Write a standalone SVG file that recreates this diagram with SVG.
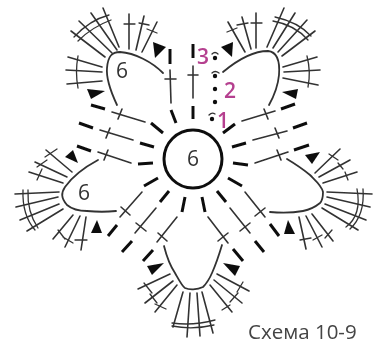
<svg xmlns="http://www.w3.org/2000/svg" width="382" height="345" viewBox="0 0 382 345">
<style>
.t{fill:none;stroke:#333;stroke-width:1.6;stroke-linecap:round}
.c{fill:none;stroke:#333;stroke-width:1.3;stroke-linecap:round}
.d{fill:none;stroke:#111;stroke-width:3;stroke-linecap:butt}
.p{fill:none;stroke:#333;stroke-width:1.8;stroke-linecap:round}
.a{fill:#111;stroke:none}
.n{font-family:"Open Sans","Noto Sans",sans-serif;font-size:21px;fill:#333;text-anchor:middle}
.m{font-family:"Open Sans","Noto Sans",sans-serif;font-size:21px;font-weight:600;fill:#b5408f;text-anchor:middle}
text.l{font-family:"Open Sans","Noto Sans",sans-serif;font-size:20.5px;fill:#444}
</style>
<defs><filter id="b" x="0" y="0" width="100%" height="100%" filterUnits="userSpaceOnUse"><feGaussianBlur stdDeviation="0.45"/></filter></defs>
<rect width="382" height="345" fill="#fff"/>
<g filter="url(#b)">
<g id="connectors">
<path class="d" d="M171 110L176 123M193 106V119M223 133L235 124M232 147L246 143M233 163L248 165M228 178L242 186M217 191L226 202M202 197L205 212M185 197L182 212M169 191L160 202M158 178L144 186M153 163L138 164M154 147L140 143M163 133L151 123"/>
<path class="d" d="M170 49V64M193 44V58M91 105L105 109M79 123L93 128M77 146L91 151M117 225L108 236M132 241L122 252M153 250L143 261M233 249L243 261M255 241L264 252M270 224L279 236M281 109L295 104M293 128L307 123M294 150L309 145"/>
<path class="t" d="M170 70L171 103M165 79H176M193 66V98M188 75H198M112 112L145 122M118 119L122 109M100 130L133 140M106 138L110 128M98 152L131 163M104 160L108 150M142 192L120 217M121 207L130 215M156 208L135 233M136 223L146 231M177 217L157 242M158 233L167 241M208 217L228 243M218 241L228 233M230 208L250 233M240 231L250 223M245 192L265 217M255 216L265 208M242 121L275 111M264 109L268 119M253 140L287 131M275 128L279 138M255 163L288 152M277 150L281 160"/>
</g>
<g id="stitches-start">
<g class="a"><circle cx="215" cy="58" r="2.2"/><circle cx="215" cy="76" r="2.2"/><circle cx="215" cy="89" r="2.2"/><circle cx="215" cy="102" r="2.2"/><circle cx="212" cy="119" r="2.2"/></g>
<path class="c" d="M212 54Q215 51 218 54M212 73Q215 70 219 73M209 115Q212 112 215 114"/>
<text class="m" x="203" y="64">3</text>
<text class="m" x="230" y="98">2</text>
<text class="m" x="223" y="128">1</text>
</g>
<g id="center">
<circle cx="193" cy="159" r="29" fill="none" stroke="#111" stroke-width="3"/>
<text class="n" x="193" y="166">6</text>
</g>
<g id="petal-top-left">
<path class="p" d="M117 105C110 90 106 78 107 68C108 56 112 52 120 52C135 53 152 62 163 73"/>
<text class="n" x="122" y="78">6</text>
<polygon class="a" points="153,42 166,47 155,58"/>
<polygon class="a" points="87,89 105,91 91,99"/>
<path class="t" d="M102 81L67 84M102 72L66 70M102 67L68 57M105 57L71 31M112 53L79 21M117 50L91 13M119 47L103 8M129 49V14M136 50L144 16M142 52L157 22"/>
<path class="c" d="M78 56Q75 72 78 88M74 37Q90 20 109 15M78 41Q92 27 111 20M124 24H135M139 23L149 25M147 29L157 33"/>
</g>
<g id="petal-top-right">
<path class="p" d="M223 72C235 62 252 51 268 51C278 52 280 62 279 75C278 86 274 96 269 105"/>
<polygon class="a" points="221,47 233,42 232,57"/>
<polygon class="a" points="282,92 298,89 296,99"/>
<path class="t" d="M245 52L228 22M251 49L242 17M256 48V13M267 47L284 8M273 48L295 13M278 52L307 20M282 56L315 31M283 67L317 57M284 72L320 70M283 78L318 85"/>
<path class="c" d="M227 32L237 28M237 25L248 23M251 23H262M275 17Q298 22 311 36M273 21Q295 25 308 40M307 56Q311 72 308 87"/>
</g>
<g id="petal-left">
<path class="p" d="M98 160C85 167 72 177 65 187C61 193 61 198 67 205C73 210 82 211 87 211C97 212 107 212 116 211"/>
<text class="n" x="84" y="200">6</text>
<polygon class="a" points="65,157 73,150 78,163"/>
<polygon class="a" points="97,220 102,233 91,233"/>
<path class="t" d="M72 172L46 150M67 177L35 162M63 183L29 172M59 192L15 194M58 197L16 207M59 204L20 220M63 209L27 231M73 215L53 239M80 216L65 247M86 217L81 250"/>
<path class="c" d="M45 157L57 149M37 167L47 160M37 180L42 169M23 190Q22 215 35 230M28 190Q27 212 38 228M58 230L65 239M63 237L73 243M75 240H87"/>
</g>
<g id="petal-right">
<path class="p" d="M287 159C297 165 304 170 310 175C316 181 322 186 323 192C323 198 322 201 320 203C314 208 308 210 303 211C292 213 281 213 270 212"/>
<polygon class="a" points="305,155 320,152 312,164"/>
<polygon class="a" points="288,220 295,234 284,234"/>
<path class="t" d="M315 173L340 149M319 177L350 160M323 183L357 172M327 192L372 194M327 197L370 207M325 204L366 220M322 208L358 230M312 214L333 241M306 216L322 247M299 217L306 249"/>
<path class="c" d="M329 154L338 160M338 163L343 169M345 172L348 180M357 189Q362 215 346 227M363 189Q365 215 350 229M325 238L332 230M313 240L322 235M300 240L311 238"/>
</g>
<g id="petal-bottom">
<path class="p" d="M164 246C167 258 171 267 175 273C179 280 182 286 185 288C189 290 197 290 203 287C206 284 209 280 212 273C216 264 219 255 222 245"/>
<polygon class="a" points="147,266 164,263 152,275"/>
<polygon class="a" points="223,263 240,266 235,276"/>
<path class="t" d="M170 274L138 289M173 281L145 303M177 285L155 312M217 274L249 291M214 280L242 303M210 285L232 312M183 292L173 327M190 293L187 337M197 293L200 336M202 292L213 333"/>
<path class="c" d="M144 283L152 293M150 294L157 303M155 304L166 309M237 292L243 282M230 302L238 293M222 310L230 305M172 323Q193 326 215 320M172 326Q193 330 214 325"/>
</g>
<text class="l" x="248" y="339">Схема 10-9</text>
</g>
</svg>
